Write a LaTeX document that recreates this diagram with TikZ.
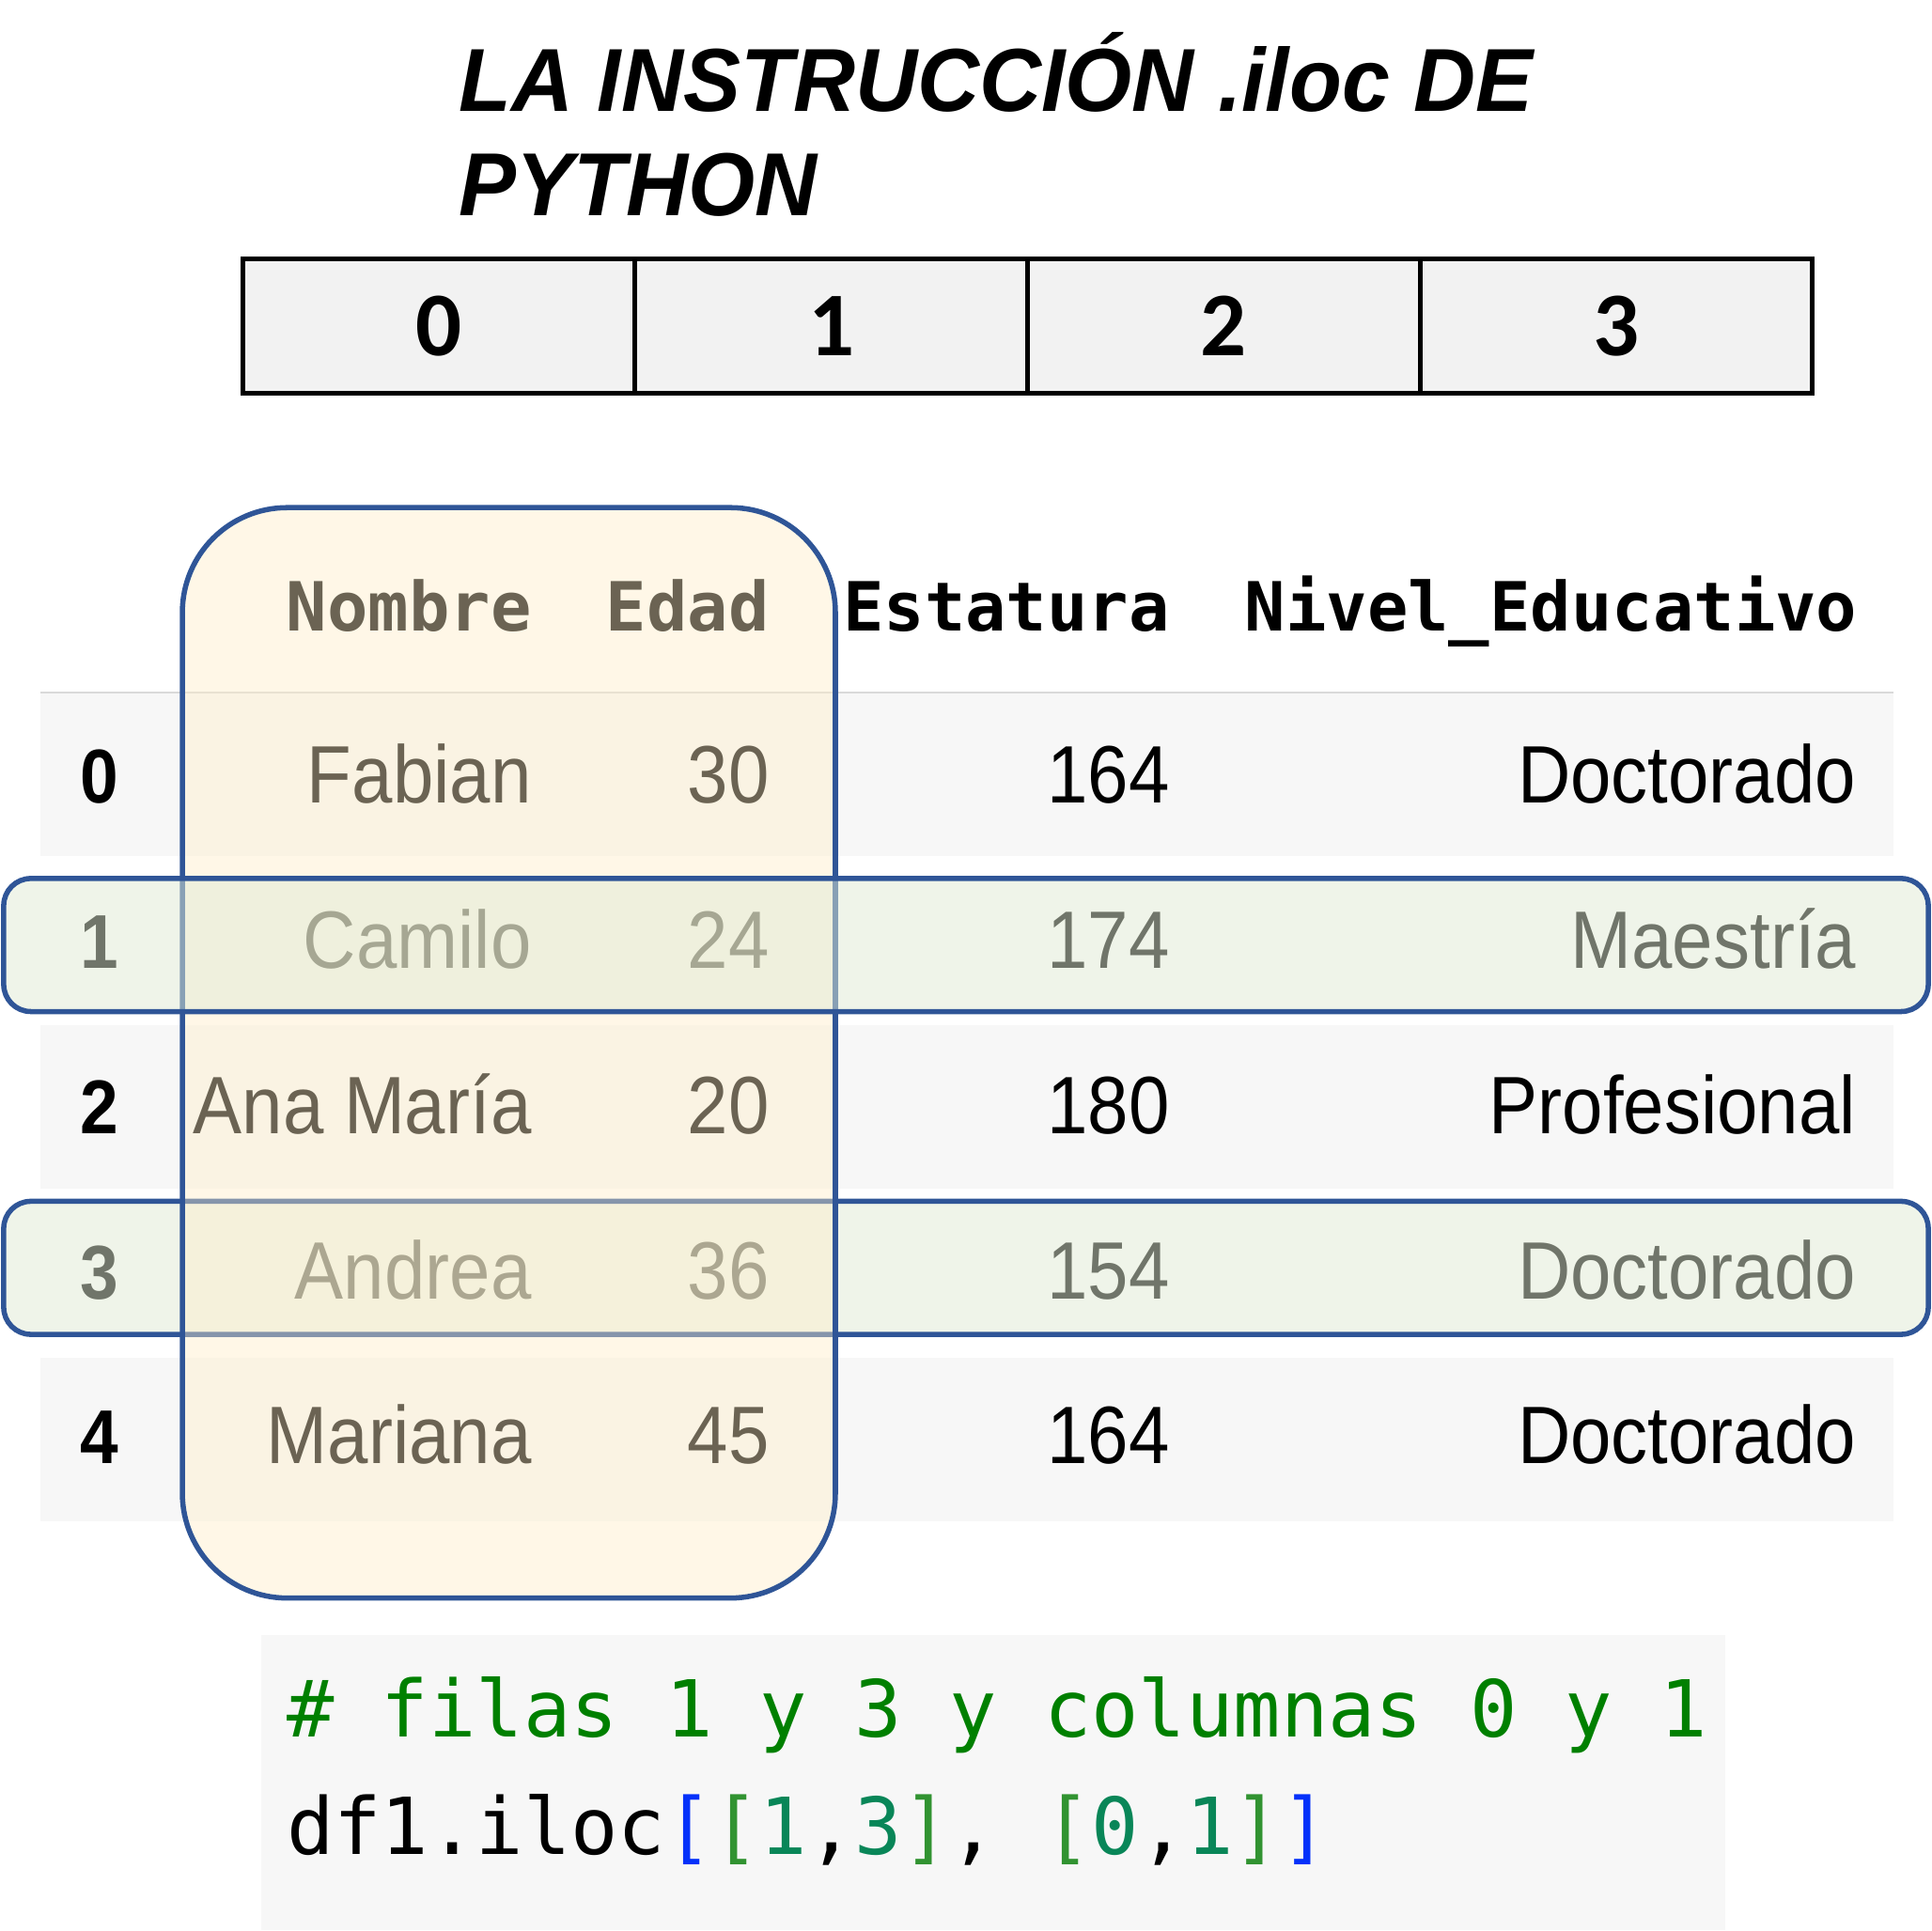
\documentclass[tikz,border=0pt]{standalone}
\usepackage{fontspec}
\setmainfont{Liberation Sans}
\newfontfamily\titlefont[FakeStretch=0.96]{Liberation Sans}
\newfontfamily\cellfont[FakeStretch=0.9]{Liberation Sans}
\newfontfamily\digitfont{Carlito}
\newfontfamily\codefont{DejaVu Sans Mono}
\definecolor{boxgray}{HTML}{F2F2F2}
\definecolor{rowgray}{HTML}{F7F7F7}
\definecolor{rulegray}{HTML}{D9D9D9}
\definecolor{frameblue}{HTML}{2F5597}
\definecolor{colfill}{RGB}{255,238,200}
\definecolor{rowfill}{RGB}{225,235,212}
\definecolor{commentgreen}{HTML}{008000}
\definecolor{brkblue}{HTML}{0431FA}
\definecolor{brkgreen}{HTML}{319331}
\definecolor{numteal}{HTML}{098658}

\begin{document}
\begin{tikzpicture}[x=0.01cm, y=-0.01cm,
	titletext/.style={anchor=base west, inner sep=0pt, font=\titlefont\bfseries\itshape\fontsize{20.65}{25}\selectfont},
	idxbox/.style={draw, line width=1.1pt, fill=boxgray, minimum width=3.185cm, minimum height=1.09cm, inner sep=0pt, font=\digitfont\bfseries\fontsize{21}{25}\selectfont},
	colhead/.style={anchor=base east, inner sep=0pt, font=\codefont\bfseries\fontsize{15.65}{19}\selectfont},
	cell/.style={anchor=base east, inner sep=0pt, font=\cellfont\fontsize{18.8}{22}\selectfont},
	rowidx/.style={anchor=base, inner sep=0pt, font=\cellfont\bfseries\fontsize{17.6}{21}\selectfont},
	codeline/.style={anchor=base west, inner sep=0pt, font=\codefont\fontsize{18.15}{22}\selectfont},
	selcol/.style={draw=frameblue, line width=1.2pt, fill=colfill, fill opacity=0.42, rounded corners=0.85cm},
	selrow/.style={draw=frameblue, line width=1.2pt, fill=rowfill, fill opacity=0.5, rounded corners=0.22cm}]
	\fill[white] (0,0) rectangle (1568,1566.5);
	\useasboundingbox (0,0) rectangle (1568,1566.5);

	% title
	\node[titletext] (title) at (372,90) {LA INSTRUCCIÓN .iloc DE};
	\node[titletext] (title2) at (372,175) {PYTHON};

	% column positions
	\foreach \c in {0,...,3}
		\node[idxbox] (idx\c) at ({356.25+318.5*\c},264.5) {\c};

	% table
	\foreach \r in {0,2,4}
		\fill[rowgray] (33,{562+135*\r}) rectangle (1537,{695+135*\r});
	\draw[rulegray, line width=0.6pt] (33,562) -- (1537,562);

	\node[colhead] (hNombre) at (432,512) {Nombre};
	\node[colhead] (hEdad) at (625,512) {Edad};
	\node[colhead] (hEstatura) at (950,512) {Estatura};
	\node[colhead] (hNivel) at (1508,512) {Nivel\_Educativo};

	\foreach \r/\nom/\eda/\est/\niv [evaluate=\r as \y using 652+134*\r] in
		{0/Fabian/30/164/Doctorado, 1/Camilo/24/174/Maestría, 2/Ana María/20/180/Profesional,
		 3/Andrea/36/154/Doctorado, 4/Mariana/45/164/Doctorado}
	{
		\node[rowidx] (row\r) at (81,\y) {\r};
		\node[cell] (nom\r) at (432,\y) {\nom};
		\node[cell] (eda\r) at (625,\y) {\eda};
		\node[cell] (est\r) at (950,\y) {\est};
		\node[cell] (niv\r) at (1507,\y) {\niv};
	}

	% selection
	\draw[selrow] (3,975) rectangle (1565,1083);
	\draw[selcol] (148,412) rectangle (678,1297);
	\draw[selrow] (3,713) rectangle (1565,821);

	% code
	\fill[rowgray] (212,1327) rectangle (1400,1566.5);
	\node[codeline, text=commentgreen] (comment) at (232,1410) {\# filas 1 y 3 y columnas 0 y 1};
	\node[codeline] (call) at (232,1505) {df1.iloc{\color{brkblue}[}{\color{brkgreen}[}{\color{numteal}1},{\color{numteal}3}{\color{brkgreen}]}, {\color{brkgreen}[}{\color{numteal}0},{\color{numteal}1}{\color{brkgreen}]}{\color{brkblue}]}};
\end{tikzpicture}
\end{document}
